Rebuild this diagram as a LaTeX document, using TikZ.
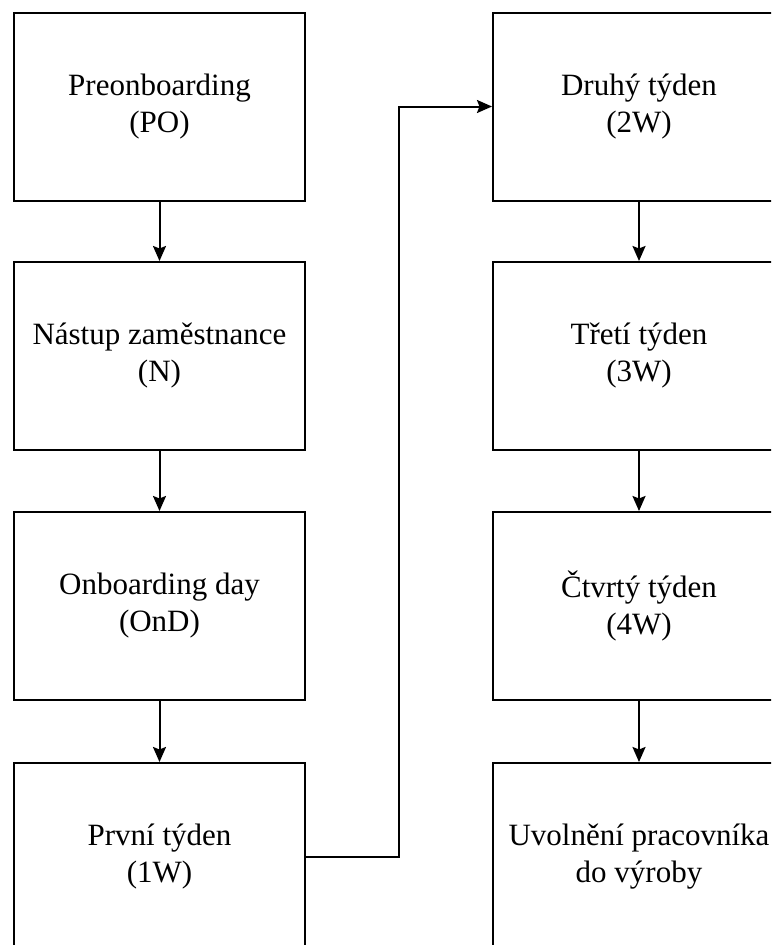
\documentclass[tikz,border=0pt]{standalone}
\usepackage{fontspec}
\setmainfont{Liberation Serif}
\usetikzlibrary{arrows.meta}

\tikzset{
  stagebox/.style={draw=black, line width=2pt, fill=white, inner sep=0pt,
    minimum width=291pt, minimum height=188pt, align=center,
    font=\fontsize{31}{37}\selectfont},
  flow/.style={draw=black, line width=2pt,
    -{Stealth[length=15pt, width=13pt, inset=2.5pt]}},
}

\begin{document}
\begin{tikzpicture}[x=1pt, y=-1pt]
  \useasboundingbox (0,0) rectangle (771,945);
  \clip (0,0) rectangle (771,945);

  % left column: preparation and first week
  \node[stagebox] (po)  at (159.5,106.5) {Preonboarding\\(PO)};
  \node[stagebox] (n)   at (159.5,356)   {Nástup zaměstnance\\(N)};
  \node[stagebox] (ond) at (159.5,606)   {Onboarding day\\(OnD)};
  \node[stagebox] (w1)  at (159.5,857)   {První týden\\(1W)};

  % right column: following weeks and release
  \node[stagebox, minimum width=292pt] (w2)  at (639,106.5) {Druhý týden\\(2W)};
  \node[stagebox, minimum width=292pt] (w3)  at (639,356)   {Třetí týden\\(3W)};
  \node[stagebox, minimum width=292pt] (w4)  at (639,606)   {Čtvrtý týden\\(4W)};
  \node[stagebox, minimum width=292pt] (rel) at (639,857)   {Uvolnění pracovníka\\do výroby};

  % connectors
  \draw[flow] (po) -- (n);
  \draw[flow] (n) -- (ond);
  \draw[flow] (ond) -- (w1);
  \coordinate (bend) at (399,0);
  \draw[flow] (w1.east) -- (bend |- w1.east) -- (bend |- w2.west) -- (w2.west);
  \draw[flow] (w2) -- (w3);
  \draw[flow] (w3) -- (w4);
  \draw[flow] (w4) -- (rel);
\end{tikzpicture}
\end{document}
